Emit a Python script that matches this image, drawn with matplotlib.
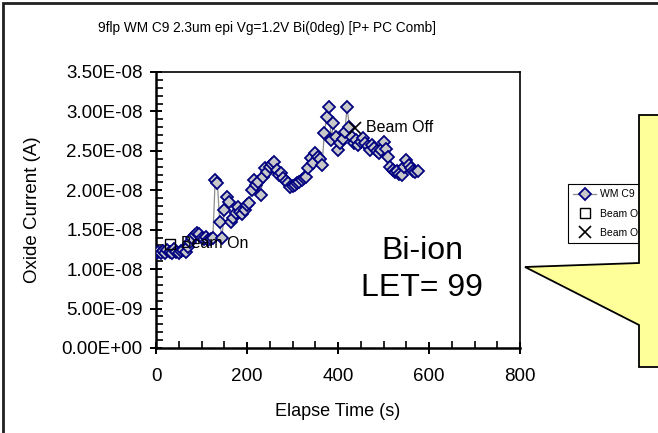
import matplotlib
matplotlib.use("Agg")
import matplotlib.pyplot as plt
from matplotlib.ticker import MultipleLocator, FuncFormatter
from matplotlib.patches import Polygon, Rectangle

plt.rcParams['font.family'] = ['Liberation Sans', 'DejaVu Sans']

# Elapsed time (s) and oxide current (units of 1E-8 A)
time_s = [0, 5, 10, 15, 20, 25, 30, 35, 40, 45, 50, 55, 60, 65, 70, 75, 80, 85, 90, 95,
          100, 105, 110, 115, 120, 125, 130, 135, 140, 145, 150, 155, 160, 165, 170, 175,
          180, 185, 190, 195, 200, 205, 210, 215, 220, 225, 230, 235, 240, 245, 250, 255,
          260, 265, 270, 275, 280, 285, 290, 295, 300, 305, 310, 315, 320, 325, 330, 335,
          340, 345, 350, 355, 360, 365, 370, 375, 380, 385, 390, 395, 400, 405, 410, 415,
          420, 425, 430, 435, 440, 445, 450, 455, 460, 465, 470, 475, 480, 485, 490, 495,
          500, 505, 510, 515, 520, 525, 530, 535, 540, 545, 550, 555, 560, 565, 570, 575]
current_e8 = [1.20, 1.22, 1.21, 1.23, 1.20, 1.24, 1.22, 1.21, 1.25, 1.22, 1.20, 1.23, 1.24, 1.22,
              1.28, 1.35, 1.40, 1.43, 1.46, 1.44, 1.40, 1.38, 1.41, 1.37, 1.38, 1.39, 2.13, 2.09,
              1.60, 1.39, 1.75, 1.91, 1.85, 1.60, 1.65, 1.71, 1.79, 1.73, 1.70, 1.75, 1.81, 1.84,
              2.00, 2.13, 2.07, 2.10, 1.94, 2.17, 2.28, 2.23, 2.30, 2.33, 2.36, 2.26, 2.19, 2.22,
              2.16, 2.12, 2.09, 2.04, 2.05, 2.07, 2.09, 2.11, 2.13, 2.15, 2.17, 2.28, 2.41, 2.35,
              2.47, 2.42, 2.40, 2.32, 2.73, 2.93, 3.06, 2.64, 2.85, 2.68, 2.51, 2.60, 2.65, 2.74,
              3.06, 2.80, 2.68, 2.60, 2.64, 2.58, 2.61, 2.66, 2.60, 2.56, 2.51, 2.58, 2.54, 2.50,
              2.47, 2.51, 2.61, 2.52, 2.42, 2.30, 2.26, 2.23, 2.25, 2.21, 2.19, 2.30, 2.38, 2.32,
              2.28, 2.25, 2.23, 2.24]

beam_on = (30, 1.32e-8)
beam_off = (437, 2.79e-8)

title = "9flp WM C9 2.3um epi Vg=1.2V Bi(0deg) [P+ PC Comb]"
series_labels = ["WM C9", "Beam On", "Beam Off"]

W, H = 658, 433
fig = plt.figure(figsize=(W / 100, H / 100), dpi=100)

def fx(px):
    return px / W

def fy(py):
    return 1 - py / H

# Chart area border (runs off the right and bottom edges)
fig.patches.append(Rectangle((fx(3), fy(700)), fx(900), fy(3) - fy(700),
                             transform=fig.transFigure, fill=False,
                             edgecolor='#202020', linewidth=2.0, zorder=0))

ax = fig.add_axes([fx(156), fy(348), fx(520) - fx(156), fy(72) - fy(348)])

current = [v * 1e-8 for v in current_e8]
ax.plot(time_s, current, color='#8c8c8c', linewidth=0.9, marker='D', markersize=6.4,
        markerfacecolor='#c8c8c8', markeredgecolor='#000080', markeredgewidth=1.3,
        label=series_labels[0], zorder=3)
ax.plot([beam_on[0]], [beam_on[1]], linestyle='none', marker='s', markersize=7,
        markerfacecolor='none', markeredgecolor='black', markeredgewidth=1.0,
        label=series_labels[1], zorder=4)
ax.plot([beam_off[0]], [beam_off[1]], linestyle='none', marker='x', markersize=8,
        color='black', markeredgewidth=1.2, label=series_labels[2], zorder=4)
ax.text(beam_on[0] + 25, beam_on[1], "Beam On", fontsize=11.5, va='center', ha='left', zorder=5)
ax.text(beam_off[0] + 25, beam_off[1], "Beam Off", fontsize=11.5, va='center', ha='left', zorder=5)

ax.set_xlim(0, 800)
ax.set_ylim(0, 3.5e-8)
ax.xaxis.set_major_locator(MultipleLocator(200))
ax.xaxis.set_minor_locator(MultipleLocator(50))
ax.yaxis.set_major_locator(MultipleLocator(5e-9))
ax.yaxis.set_minor_locator(MultipleLocator(1e-9))
ax.yaxis.set_major_formatter(FuncFormatter(lambda v, p: f"{v:.2E}"))
ax.tick_params(which='major', direction='inout', length=9, width=1.4, labelsize=13.5,
               color='black')
ax.tick_params(axis='x', which='major', pad=10)
ax.tick_params(axis='y', which='major', pad=5)
ax.tick_params(which='minor', direction='in', length=5, width=1.2, color='black')
for side in ('left', 'bottom'):
    ax.spines[side].set_linewidth(1.8)
for side in ('top', 'right'):
    ax.spines[side].set_linewidth(1.2)

ax.set_xlabel("Elapse Time (s)", fontsize=13, labelpad=13)
ax.set_ylabel("Oxide Current (A)", fontsize=13.5, labelpad=15)
fig.text(fx(267), fy(28), title, fontsize=9.8, ha='center', va='center')

ax.text(585, 1.0e-8, "Bi-ion\nLET= 99", fontsize=23, ha='center', va='center',
        linespacing=1.3, zorder=5)

handles, labels = ax.get_legend_handles_labels()
leg = fig.legend(handles, labels, loc='upper left', bbox_to_anchor=(fx(568), fy(184)),
                 fontsize=7.5, frameon=True, fancybox=False, framealpha=1,
                 edgecolor='black', borderpad=0.5, handlelength=2.2,
                 labelspacing=0.9, handletextpad=0.4, borderaxespad=0)
leg.get_frame().set_linewidth(0.8)
leg.set_zorder(5)

# Yellow callout pointing back at the plot
pts = [(639, 115), (720, 115), (720, 367), (639, 367), (639, 325), (525, 267), (639, 263)]
fig.patches.append(Polygon([(fx(x), fy(y)) for x, y in pts], closed=True,
                           transform=fig.transFigure, facecolor='#ffff99',
                           edgecolor='black', linewidth=1.3, zorder=6))

fig.savefig("out.png", dpi=100)
